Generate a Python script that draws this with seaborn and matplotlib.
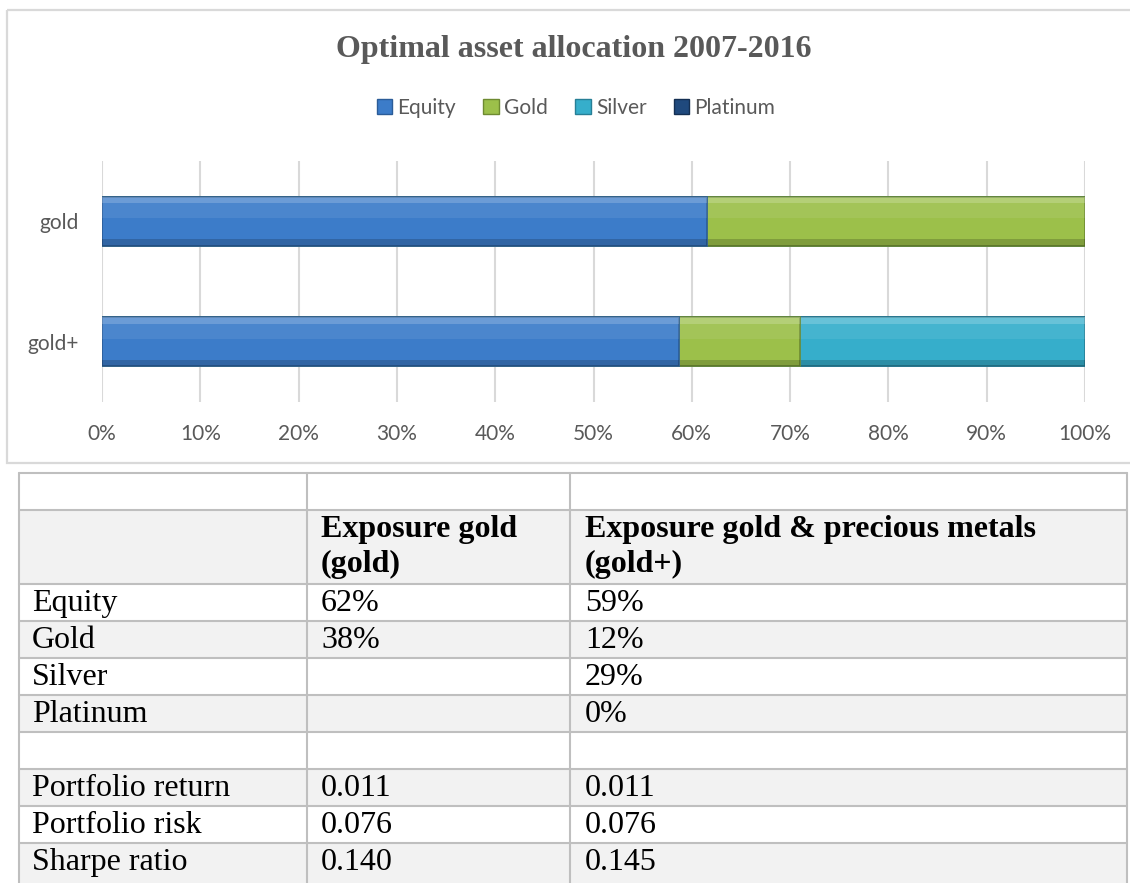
import numpy as np
import pandas as pd
import seaborn as sns
import matplotlib.pyplot as plt
from matplotlib.patches import Patch, Rectangle

# =============================
# 1. DATA
# =============================
portfolios = ["gold", "gold+"]
assets = ["Equity", "Gold", "Silver", "Platinum"]
equity = [0.615, 0.587]
gold = [0.385, 0.123]
silver = [0.0, 0.290]
platinum = [0.0, 0.0]

x_ticks = [0.0, 0.1, 0.2, 0.3, 0.4, 0.5, 0.6, 0.7, 0.8, 0.9, 1.0]
x_tick_labels = ["0%", "10%", "20%", "30%", "40%", "50%", "60%", "70%", "80%", "90%", "100%"]

# table below the chart
row_labels = ["", "", "Equity", "Gold", "Silver", "Platinum", "",
              "Portfolio return", "Portfolio risk", "Sharpe ratio"]
col_gold = ["", "Exposure gold\n(gold)", "62%", "38%", "", "", "",
            "0.011", "0.076", "0.140"]
col_plus = ["", "Exposure gold & precious metals\n(gold+)", "59%", "12%", "29%", "0%", "",
            "0.011", "0.076", "0.145"]

# =============================
# 2. STYLE
# =============================
sns.set_style("white")
plt.rcParams["font.family"] = ["Lato", "DejaVu Sans"]

face = {"Equity": "#3c7cc9", "Gold": "#9cc04a", "Silver": "#36aecb", "Platinum": "#1f497d"}
edge = {"Equity": "#2b5c98", "Gold": "#6e8a31", "Silver": "#277f96", "Platinum": "#142f52"}
grey_txt = "#595959"
W, H = 1130, 883

fig = plt.figure(figsize=(W / 100, H / 100), dpi=100)
fig.patch.set_facecolor("white")

# overlay axes in pixel units for the frame and the table
ax_t = fig.add_axes([0, 0, 1, 1], zorder=0)
ax_t.set_xlim(0, W)
ax_t.set_ylim(H, 0)
ax_t.axis("off")

# chart frame
ax_t.add_patch(Rectangle((7, 10), 1140, 453, fill=False, edgecolor="#d9d9d9", lw=1.6))

# =============================
# 3. STACKED BAR CHART
# =============================
ax = fig.add_axes([102 / W, 1 - 402 / H, 983 / W, 241 / H], zorder=1)
ax.patch.set_visible(False)

df = pd.DataFrame({"portfolio": portfolios, "Equity": equity, "Gold": gold,
                   "Silver": silver, "Platinum": platinum})
cum = df[assets].cumsum(axis=1)

# draw cumulative layers from the right-most asset backwards
for asset in reversed(assets):
    n_before = len(ax.patches)
    sns.barplot(x=cum[asset], y=df["portfolio"], orient="h", color=face[asset],
                saturation=1, width=0.41, edgecolor=edge[asset], linewidth=1.2, ax=ax)
    # simple bevel look: light top band, dark bottom band
    for p in list(ax.patches[n_before:]):
        x0, y0 = p.get_x(), p.get_y()
        w, h = p.get_width(), p.get_height()
        if w <= 0:
            continue
        ax.add_patch(Rectangle((x0, y0), w, h * 0.14, facecolor="white",
                               alpha=0.25, lw=0))
        ax.add_patch(Rectangle((x0, y0 + h * 0.14), w, h * 0.3, facecolor="white",
                               alpha=0.08, lw=0))
        ax.add_patch(Rectangle((x0, y0 + h * 0.86), w, h * 0.14, facecolor="black",
                               alpha=0.18, lw=0))

ax.set_xlim(0, 1.0)
ax.set_ylim(1.5, -0.5)
ax.set_xticks(x_ticks)
ax.set_xticklabels(x_tick_labels)
ax.set_xlabel("")
ax.set_ylabel("")
ax.xaxis.grid(True, color="#d9d9d9", lw=1.5)
ax.set_axisbelow(True)
for s in ax.spines.values():
    s.set_visible(False)
ax.tick_params(axis="x", length=0, pad=16, labelsize=15, labelcolor=grey_txt)
ax.tick_params(axis="y", length=0, pad=17, labelsize=15, labelcolor=grey_txt)

fig.text(574 / W, 1 - 50 / H, "Optimal asset allocation 2007-2016", ha="center", va="center",
         fontsize=23, fontweight="bold", family="Liberation Serif", color=grey_txt)

handles = [Patch(facecolor=face[a], edgecolor=edge[a], label=a) for a in assets]
fig.legend(handles=handles, loc="center", bbox_to_anchor=(576 / W, 1 - 108 / H), ncol=4,
           frameon=False, fontsize=15, labelcolor=grey_txt, handlelength=0.75,
           handleheight=0.75, handletextpad=0.25, columnspacing=1.3)

# =============================
# 4. TABLE (last row runs off the page, like the source)
# =============================
tbl_top = 473
row_h = [37, 74, 37, 37, 37, 37, 37, 37, 37, 45]
col_x = [19, 307, 570, 1127]
txt_x = [32, 321, 585]
line_col = "#bfbfbf"

y = tbl_top
for i, rh in enumerate(row_h):
    bg = "#f2f2f2" if i % 2 == 1 else "white"
    ax_t.add_patch(Rectangle((col_x[0], y), col_x[-1] - col_x[0], rh, facecolor=bg, lw=0))
    cells = [row_labels[i], col_gold[i], col_plus[i]]
    for j, cell in enumerate(cells):
        bold = (i == 1)
        for k, line in enumerate(cell.split("\n")):
            ax_t.text(txt_x[j], y + 27 + k * 35, line, ha="left", va="baseline",
                      fontsize=23, family="Liberation Serif",
                      fontweight="bold" if bold else "normal", color="black")
    ax_t.plot([col_x[0], col_x[-1]], [y, y], color=line_col, lw=1.5)
    y += rh
for cx in col_x:
    ax_t.plot([cx, cx], [tbl_top, y], color=line_col, lw=1.5)

plt.savefig("out.png", dpi=100)
